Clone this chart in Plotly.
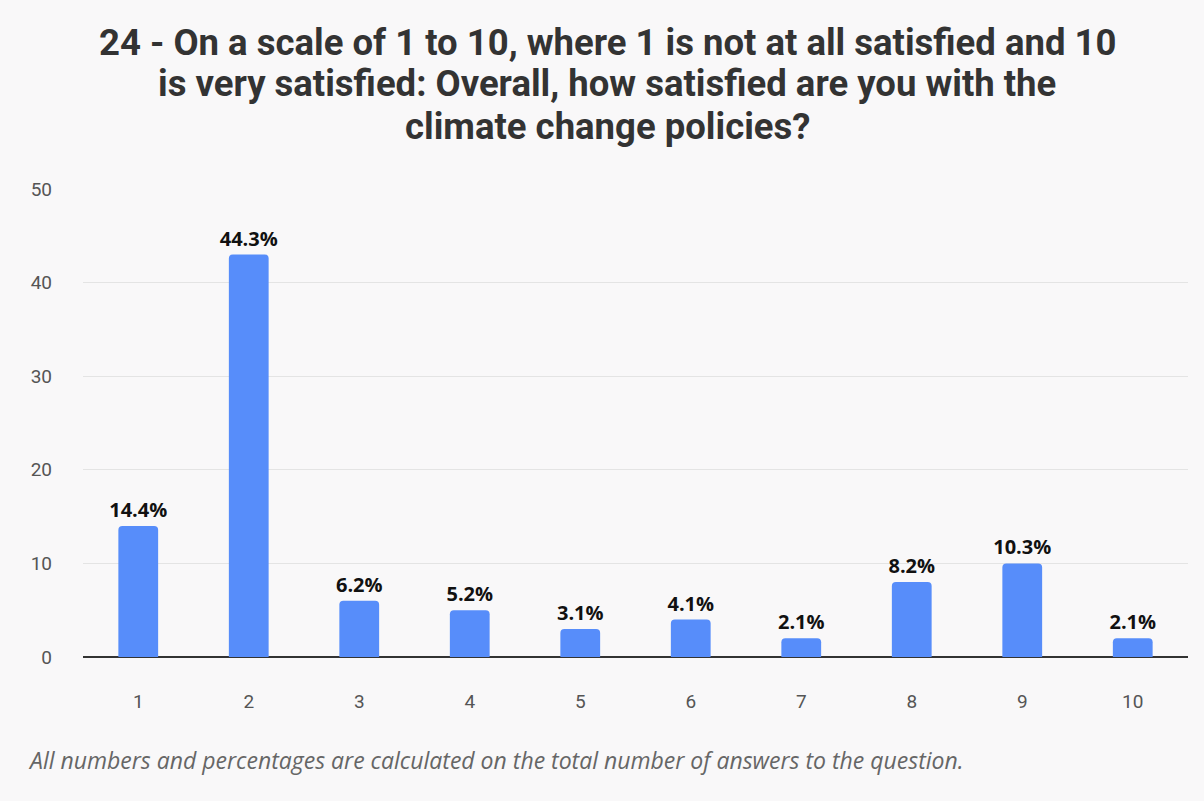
import plotly.graph_objects as go

categories = ["1", "2", "3", "4", "5", "6", "7", "8", "9", "10"]
counts = [14, 43, 6, 5, 3, 4, 2, 8, 10, 2]
pct_labels = ["14.4%", "44.3%", "6.2%", "5.2%", "3.1%", "4.1%", "2.1%", "8.2%", "10.3%", "2.1%"]
y_ticks = [0, 10, 20, 30, 40, 50]

title_lines = [
    "24 - On a scale of 1 to 10, where 1 is not at all satisfied and 10",
    "is very satisfied: Overall, how satisfied are you with the",
    "climate change policies?",
]
footnote = "All numbers and percentages are calculated on the total number of answers to the question."

bg = "#f9f8f9"

# plot area geometry (pixels) used to place paper-referenced annotations
PL, PR, PT, PB = 83, 1188, 189, 657

def px_x(x):
    return (x - PL) / (PR - PL)

def px_y(y):
    return (PB - y) / (PB - PT)

fig = go.Figure(go.Bar(
    x=categories,
    y=counts,
    text=pct_labels,
    textposition="outside",
    constraintext="none",
    cliponaxis=False,
    textfont=dict(family="Open Sans", size=20, color="#111111", weight="bold"),
    marker=dict(color="#578dfa", cornerradius=4, line=dict(width=0)),
    hoverinfo="skip",
))

annotations = []
title_centers = [42, 84, 126]
for line, yc in zip(title_lines, title_centers):
    annotations.append(dict(
        text=line,
        xref="paper", yref="paper",
        x=px_x(607), y=px_y(yc),
        xanchor="center", yanchor="middle",
        showarrow=False,
        font=dict(family="Roboto", size=36.5, color="#333333", weight="bold"),
    ))

annotations.append(dict(
    text=footnote,
    xref="paper", yref="paper",
    x=px_x(26), y=px_y(760),
    xanchor="left", yanchor="middle",
    showarrow=False,
    font=dict(family="Open Sans", size=23, color="#666666", style="italic"),
))

fig.update_layout(
    width=1204, height=801,
    paper_bgcolor=bg, plot_bgcolor=bg,
    margin=dict(l=PL, r=1204 - PR, t=PT, b=801 - PB),
    bargap=0.64,
    showlegend=False,
    xaxis=dict(
        type="category",
        showgrid=False,
        showline=False,
        zeroline=False,
        ticks="",
        ticklabelstandoff=31,
        tickfont=dict(family="Roboto", size=19, color="#555555"),
    ),
    yaxis=dict(
        range=[0, 50],
        tickvals=y_ticks,
        showgrid=True,
        gridcolor="#e4e4e4",
        gridwidth=1,
        zeroline=True,
        zerolinecolor="#333333",
        zerolinewidth=2,
        showline=False,
        ticks="",
        ticklabelstandoff=30,
        tickfont=dict(family="Roboto", size=19, color="#555555"),
    ),
    annotations=annotations,
)

fig.write_html("out.html")
